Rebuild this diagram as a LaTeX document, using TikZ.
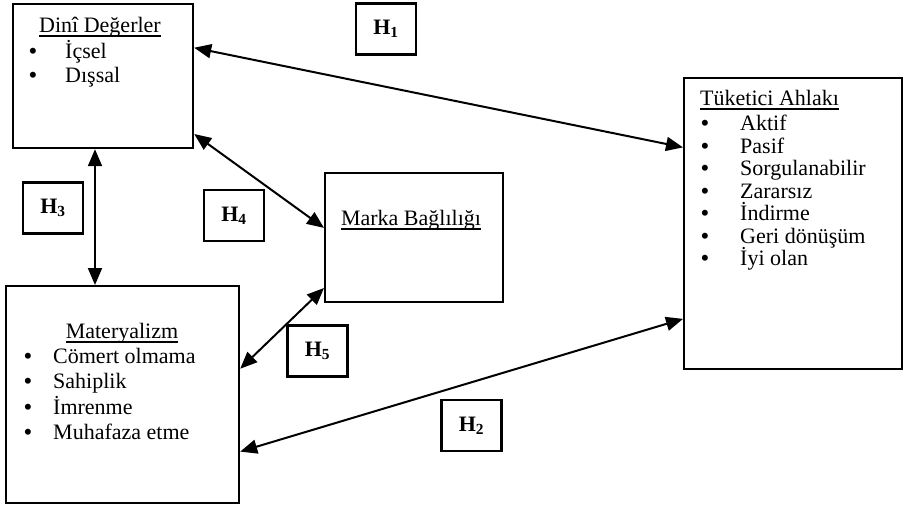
\documentclass[tikz,border=0pt]{standalone}
\usepackage{fontspec}
\setmainfont{Liberation Serif}
\usetikzlibrary{arrows.meta,calc}
\newcommand\ulx[1]{\setbox0\hbox{#1}\rlap{\rule[-4.5pt]{\wd0}{1.6pt}}\box0}
\begin{document}
\begin{tikzpicture}[x=1pt,y=-1pt,
  box/.style={draw,line width=2.2pt,rectangle,inner sep=0pt,anchor=north west},
  hbox/.style={draw,line width=2.2pt,rectangle,minimum width=60pt,minimum height=51pt,inner sep=0pt,font=\fontsize{22}{22}\selectfont\bfseries},
  txt/.style={anchor=base west,inner sep=0pt,font=\fontsize{22}{22}\selectfont},
  ttl/.style={anchor=base,inner sep=0pt,font=\fontsize{22}{22}\selectfont},
  bul/.style={anchor=base,inner sep=0pt,font=\fontsize{22}{22}\selectfont\bfseries},
  link/.style={line width=2pt,{Triangle[length=17pt,width=14pt]}-{Triangle[length=17pt,width=14pt]}}]
\useasboundingbox (0,0) rectangle (903,507);
% boxes
\node[box,minimum width=180pt,minimum height=144pt] (dini) at (12,3) {};
\node[box,minimum width=218pt,minimum height=291pt] (tuk) at (683,77) {};
\node[box,minimum width=178pt,minimum height=129pt] (marka) at (324,172) {};
\node[box,minimum width=233pt,minimum height=217pt] (mat) at (5,285) {};
% hypothesis boxes
\node[hbox] (h1) at (386,29) {H\textsubscript{1}};
\node[hbox] (h2) at (471.5,425.5) {H\textsubscript{2}};
\node[hbox] (h3) at (53,208) {H\textsubscript{3}};
\node[hbox] (h4) at (234,215.5) {H\textsubscript{4}};
\node[hbox] (h5) at (317.5,351) {H\textsubscript{5}};
% Dini texts
\node[ttl] (dinit) at (100,32) {\ulx{Dinî Değerler}};
\node[bul] (dinib1) at (33,58) {•};
\node[txt] (dini1) at (65,58) {İçsel};
\node[bul] (dinib2) at (33,82) {•};
\node[txt] (dini2) at (65,82) {Dışsal};
% Tuketici texts
\node[txt] (tukt) at (700,105) {\ulx{Tüketici Ahlakı}};
\foreach \t [count=\i] in {Aktif,Pasif,Sorgulanabilir,Zararsız,İndirme,Geri dönüşüm,İyi olan}{
  \node[bul] (tukb\i) at (705,{108+22.5*\i}) {•};
  \node[txt] (tuk\i) at (740,{108+22.5*\i}) {\t};
}
% Marka text
\node[ttl] (markat) at (411,225) {\ulx{Marka Bağlılığı}};
% Materyalizm texts
\node[ttl] (matt) at (122,338) {\ulx{Materyalizm}};
\foreach \t [count=\i] in {Cömert olmama,Sahiplik,İmrenme,Muhafaza etme}{
  \node[bul] (matb\i) at (28,{337.5+25.5*\i}) {•};
  \node[txt] (mat\i) at (53,{337.5+25.5*\i}) {\t};
}
% connectors
\coordinate (h3x) at (95,0);
\draw[link] ($(dini.north east)!0.306!(dini.south east)$) -- ($(tuk.north west)!0.24!(tuk.south west)$);
\draw[link] ($(mat.north east)!0.76!(mat.south east)$) -- ($(tuk.north west)!0.825!(tuk.south west)$);
\draw[link] (dini.south -| h3x) -- (mat.north -| h3x);
\draw[link] ($(dini.north east)!0.896!(dini.south east)$) -- ($(marka.north west)!0.426!(marka.south west)$);
\draw[link] ($(mat.north east)!0.382!(mat.south east)$) -- ($(marka.north west)!0.884!(marka.south west)$);
\end{tikzpicture}
\end{document}
